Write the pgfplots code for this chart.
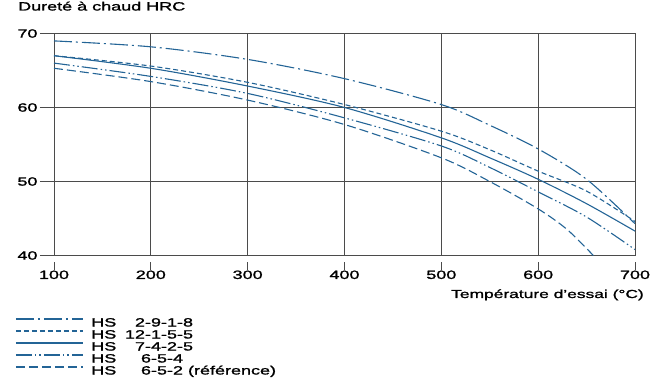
\documentclass[border=0pt]{standalone}
\usepackage{fontspec}
\setmainfont{Liberation Sans}[FakeStretch=1.5,FakeBold=1.5]
\usepackage{pgfplots}
\pgfplotsset{compat=1.18}
\definecolor{curve}{RGB}{35,100,150}
\definecolor{gridc}{RGB}{75,75,75}
\begin{document}
\begin{tikzpicture}
\path[use as bounding box] (0,0) rectangle (650pt,383pt);
\begin{axis}[
  at={(54pt,127.5pt)}, anchor=south west,
  scale only axis, width=581pt, height=222pt,
  xmin=100, xmax=700, ymin=40, ymax=70,
  xtick={100,200,...,700}, ytick={40,50,60,70},
  grid=major,
  major grid style={draw=gridc, line width=0.7pt},
  axis line style={draw=gridc, line width=0.8pt},
  tick style={draw=gridc, line width=0.8pt},
  tick align=outside, tick pos=left, major tick length=14pt,
  xtick style={dash pattern=on 8pt off 30pt},
  font=\fontsize{12}{14}\selectfont,
  /pgf/number format/assume math mode=true,
  xticklabel style={yshift=2.5pt},
  yticklabel style={xshift=1pt},
  title={Dureté à chaud HRC},
  title style={at={(axis description cs:-0.062,1.0766)}, anchor=base west, inner sep=0pt},
  xlabel={Température d'essai (°C)},
  xlabel style={at={(axis description cs:1.0155,-0.1914)}, anchor=base east, inner sep=0pt, font=\fontsize{11.6}{13}\selectfont},
  legend style={at={(axis description cs:-0.0671,-0.2784)}, anchor=north west,
    draw=none, fill=none, inner sep=0pt, row sep=0pt, column sep=8pt,
    nodes={inner sep=0pt, text height=9pt, text depth=3pt},
    font=\fontsize{12}{14}\selectfont},
  legend cell align=left,
  legend image code/.code={\draw[#1] (0pt,4.5pt) -- (67pt,4.5pt);},
  every axis plot/.append style={curve, line width=1.1pt, smooth, tension=0.5},
]
\addplot[dash pattern=on 18pt off 4pt on 2pt off 4pt] coordinates {
 (100,69.0) (200,68.2) (300,66.5) (400,63.9) (500,60.4) (550,57.6) (600,54.4) (650,50.3) (700,44.3)};
\addlegendentry{HS\hspace{8.7pt}\phantom{1}2-9-1-8}
\addplot[dash pattern=on 5pt off 3pt] coordinates {
 (100,67.0) (200,65.6) (300,63.4) (400,60.4) (500,56.8) (550,54.3) (600,51.4) (650,48.7) (700,44.6)};
\addlegendentry{HS\hspace{8.7pt}12-1-5-5}
\addplot[solid] coordinates {
 (100,67.0) (200,65.3) (300,62.9) (400,60.0) (500,55.9) (550,53.2) (600,50.3) (650,47.0) (700,43.3)};
\addlegendentry{HS\hspace{8.7pt}\phantom{1}7-4-2-5}
\addplot[dash pattern=on 16pt off 3pt on 1.5pt off 3pt on 1.5pt off 3pt] coordinates {
 (100,66.0) (200,64.2) (300,61.9) (400,58.6) (500,54.8) (550,51.9) (600,48.6) (650,45.2) (700,40.8)};
\addlegendentry{HS\hspace{8.7pt}\phantom{1-}6-5-4}
\addplot[dash pattern=on 9pt off 4pt] coordinates {
 (100,65.3) (200,63.5) (300,61.0) (400,57.7) (500,53.2) (550,50.0) (600,46.3) (630,43.5) (657,40.0)};
\addlegendentry{HS\hspace{8.7pt}\phantom{1-}6-5-2 (référence)}
\end{axis}
\end{tikzpicture}
\end{document}
